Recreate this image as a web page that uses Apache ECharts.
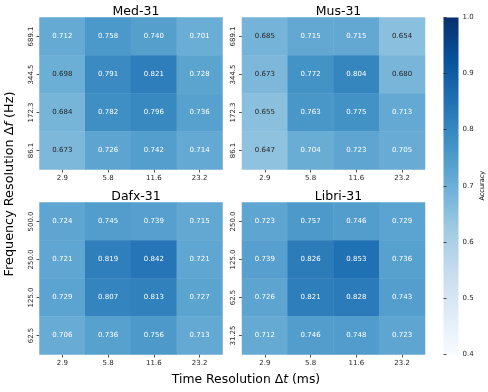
<!DOCTYPE html>
<html><head><meta charset="utf-8">
<script src="https://cdn.jsdelivr.net/npm/echarts@6/dist/echarts.min.js"></script>
<style>html,body{margin:0;padding:0;background:#fff}#c{width:488px;height:392px}</style>
</head><body><div id="c"></div>
<script>
var timeLabels = ['2.9', '5.8', '11.6', '23.2'];
var titles = ['Med-31', 'Mus-31', 'Dafx-31', 'Libri-31'];
// frequency tick labels, top to bottom
var freqMed = ['689.1', '344.5', '172.3', '86.1'];
var freqMus = ['689.1', '344.5', '172.3', '86.1'];
var freqDafx = ['500.0', '250.0', '125.0', '62.5'];
var freqLibri = ['250.0', '125.0', '62.5', '31.25'];
// values: rows top to bottom, columns by time resolution
var med = [
  [0.712, 0.758, 0.740, 0.701],
  [0.698, 0.791, 0.821, 0.728],
  [0.684, 0.782, 0.796, 0.736],
  [0.673, 0.726, 0.742, 0.714]
];
var mus = [
  [0.685, 0.715, 0.715, 0.654],
  [0.673, 0.772, 0.804, 0.680],
  [0.655, 0.763, 0.775, 0.713],
  [0.647, 0.704, 0.723, 0.705]
];
var dafx = [
  [0.724, 0.745, 0.739, 0.715],
  [0.721, 0.819, 0.842, 0.721],
  [0.729, 0.807, 0.813, 0.727],
  [0.706, 0.736, 0.756, 0.713]
];
var libri = [
  [0.723, 0.757, 0.746, 0.729],
  [0.739, 0.826, 0.853, 0.736],
  [0.726, 0.821, 0.828, 0.743],
  [0.712, 0.746, 0.748, 0.723]
];
var vmin = 0.4, vmax = 1.0;
var blues = ['#f7fbff','#deebf7','#c6dbef','#9ecae1','#6baed6','#4292c6','#2171b5','#08519c','#08306b'];

var FONT = 'DejaVu Sans';
var mats = [med, mus, dafx, libri];
var freqs = [freqMed, freqMus, freqDafx, freqLibri];
var gridPos = [
  {left: 39.5, top: 17.5}, {left: 242, top: 17.5},
  {left: 39.5, top: 202.5}, {left: 242, top: 202.5}
];
var grids = [], xAxes = [], yAxes = [], series = [], titleArr = [];
for (var k = 0; k < 4; k++) {
  grids.push({left: gridPos[k].left, top: gridPos[k].top, width: 183, height: 152});
  xAxes.push({type: 'category', gridIndex: k, data: timeLabels, position: 'bottom',
    axisLine: {show: false}, splitLine: {show: false},
    axisTick: {show: true, alignWithLabel: true, length: 3, lineStyle: {color: '#262626', width: 0.8}},
    axisLabel: {fontFamily: FONT, fontSize: 7, color: '#262626', margin: 5}});
  var yl = freqs[k].slice().reverse();
  yAxes.push({type: 'category', gridIndex: k, data: yl,
    axisLine: {show: false}, splitLine: {show: false},
    axisTick: {show: true, alignWithLabel: true, length: 3, lineStyle: {color: '#262626', width: 0.8}},
    axisLabel: {fontFamily: FONT, fontSize: 7, color: '#262626', rotate: 90, margin: 5}});
  var data = [];
  var m = mats[k];
  for (var r = 0; r < 4; r++) {
    for (var c = 0; c < 4; c++) {
      var v = m[r][c];
      data.push({value: [c, 3 - r, v], label: {color: v < 0.70 ? '#262626' : '#ffffff'}});
    }
  }
  series.push({type: 'heatmap', xAxisIndex: k, yAxisIndex: k, data: data,
    label: {show: true, fontFamily: FONT, fontSize: 7,
      formatter: function (p) { return p.value[2].toFixed(3); }},
    itemStyle: {borderWidth: 0},
    emphasis: {disabled: true}});
  titleArr.push({text: titles[k], left: gridPos[k].left + 91.5, top: gridPos[k].top - 17, textAlign: 'center',
    textStyle: {fontFamily: FONT, fontSize: 12.5, fontWeight: 'normal', color: '#000'}});
}
// colorbar axis
grids.push({left: 443.5, top: 17.5, width: 15, height: 336.5});
xAxes.push({type: 'value', gridIndex: 4, show: false, min: 0, max: 1});
yAxes.push({type: 'value', gridIndex: 4, min: vmin, max: vmax, interval: 0.1, position: 'right',
  axisLine: {show: false}, splitLine: {show: false},
  axisTick: {show: true, length: 3, lineStyle: {color: '#262626', width: 0.8}},
  axisLabel: {fontFamily: FONT, fontSize: 7, color: '#262626', margin: 4,
    formatter: function (v) { return v.toFixed(1); }},
  name: 'Accuracy', nameLocation: 'middle', nameRotate: 90, nameGap: 20,
  nameTextStyle: {fontFamily: FONT, fontSize: 6.5, color: '#000'}});

var chart = echarts.init(document.getElementById('c'), null, {renderer: 'canvas'});
chart.setOption({
  backgroundColor: '#fff',
  animation: false,
  title: titleArr,
  grid: grids,
  xAxis: xAxes,
  yAxis: yAxes,
  visualMap: {show: false, type: 'continuous', min: vmin, max: vmax, seriesIndex: [0, 1, 2, 3], dimension: 2,
    inRange: {color: blues}},
  series: series,
  graphic: [
    {type: 'rect', shape: {x: 443.5, y: 17.5, width: 15, height: 336.5}, z: -1,
      style: {fill: new echarts.graphic.LinearGradient(0, 1, 0, 0,
        blues.map(function (c, i) { return {offset: i / (blues.length - 1), color: c}; }))}},
    {type: 'text', x: 10, y: 184, rotation: Math.PI / 2,
      style: {text: '{a|Frequency Resolution Δ}{i|f}{a| (Hz)}', align: 'center', verticalAlign: 'middle',
        rich: {a: {fontFamily: FONT, fontSize: 12.8, fill: '#000'}, i: {fontFamily: FONT, fontSize: 12.8, fontStyle: 'italic', fill: '#000'}}}},
    {type: 'text', x: 246, y: 380,
      style: {text: '{a|Time Resolution Δ}{i|t}{a| (ms)}', align: 'center', verticalAlign: 'middle',
        rich: {a: {fontFamily: FONT, fontSize: 12.4, fill: '#000'}, i: {fontFamily: FONT, fontSize: 12.4, fontStyle: 'italic', fill: '#000'}}}}
  ]
});
</script></body></html>
